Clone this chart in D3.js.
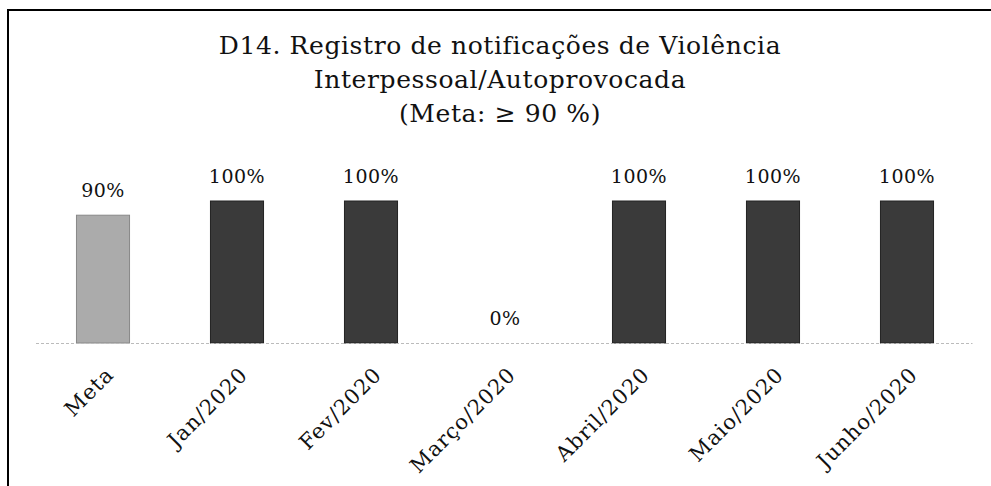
<html>
<head>
<meta charset="utf-8">
<title>D14 Violência</title>
<style>
  body { margin: 0; background: #fff; }
  text { font-family: "DejaVu Serif", Georgia, serif; fill: #111; }
</style>
<script src="https://d3js.org/d3.v7.min.js"></script>
</head>
<body>
<svg width="991" height="486"></svg>
<script>
var categories = ["Meta", "Jan/2020", "Fev/2020", "Março/2020", "Abril/2020", "Maio/2020", "Junho/2020"];
var values = [90, 100, 100, 0, 100, 100, 100];
var titleLines = ["D14. Registro de notificações de Violência", "Interpessoal/Autoprovocada", "(Meta: ≥ 90 %)"];

var svg = d3.select("svg");

// frame of the scanned chart
svg.append("rect")
    .attr("x", 8).attr("y", 10)
    .attr("width", 1000).attr("height", 500)
    .attr("fill", "none")
    .attr("stroke", "#000")
    .attr("stroke-width", 2);

var x = d3.scaleBand()
    .domain(categories)
    .range([36, 974])
    .paddingInner(0.604)
    .paddingOuter(0.302);

var y = d3.scaleLinear()
    .domain([0, 100])
    .range([343, 201]);

// title
svg.append("g")
    .selectAll("text")
    .data(titleLines)
    .enter()
    .append("text")
    .attr("x", 500)
    .attr("y", (d, i) => 54 + i * 34)
    .attr("text-anchor", "middle")
    .style("font-size", "25px")
    .style("letter-spacing", "0.6px")
    .text(d => d);

// bars
svg.append("g")
    .selectAll("rect")
    .data(values)
    .enter()
    .append("rect")
    .attr("x", (d, i) => x(categories[i]))
    .attr("y", d => y(d))
    .attr("width", x.bandwidth())
    .attr("height", d => y(0) - y(d))
    .attr("fill", (d, i) => i === 0 ? "#ababab" : "#3a3a3a")
    .attr("stroke", (d, i) => i === 0 ? "#888" : "#222")
    .attr("stroke-width", 1);

// value labels
svg.append("g")
    .selectAll("text")
    .data(values)
    .enter()
    .append("text")
    .attr("x", (d, i) => x(categories[i]) + x.bandwidth() / 2)
    .attr("y", d => y(d) - 18)
    .attr("text-anchor", "middle")
    .style("font-size", "19px")
    .style("letter-spacing", "0.5px")
    .text(d => d + "%");

// category axis
var axis = svg.append("g")
    .attr("transform", "translate(0," + y(0) + ")")
    .call(d3.axisBottom(x).tickSize(0).tickSizeOuter(0));

axis.select(".domain")
    .attr("d", "M36,0.5H972.5")
    .attr("stroke", "#bbb")
    .attr("stroke-dasharray", "3,2");

axis.selectAll(".tick text")
    .attr("x", 0).attr("y", 0).attr("dy", 0)
    .attr("text-anchor", "end")
    .attr("transform", "translate(12,33) rotate(-45)")
    .style("font-family", "'DejaVu Serif', Georgia, serif")
    .style("font-size", "21px")
    .style("letter-spacing", "1px")
    .attr("fill", "#111");
</script>
</body>
</html>
